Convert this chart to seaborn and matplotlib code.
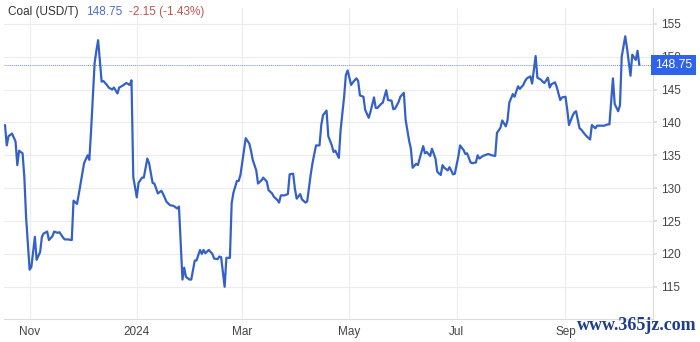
import numpy as np
import pandas as pd
import matplotlib
matplotlib.use("Agg")
import matplotlib.pyplot as plt
import matplotlib.dates as mdates
import matplotlib.transforms as mtransforms
import seaborn as sns

# ---- data ----
start_date = "2023-10-18"
day_offsets = [0, 1, 2, 4, 6, 7, 8, 10, 11, 12, 14, 15, 17, 18, 20, 21, 22, 24, 25, 27,
               28, 30, 31, 33, 34, 36, 38, 39, 41, 42, 44, 45, 47, 48, 49, 51, 52, 53, 55, 56,
               58, 59, 61, 62, 64, 65, 67, 69, 71, 72, 73, 75, 76, 78, 79, 81, 82, 84, 85, 87,
               89, 90, 92, 94, 96, 98, 99, 101, 102, 103, 105, 106, 108, 109, 111, 112, 113, 114, 116, 118,
               119, 121, 122, 123, 125, 126, 128, 129, 130, 132, 133, 134, 136, 137, 139, 140, 141, 143, 144, 146,
               147, 149, 150, 152, 153, 155, 156, 157, 159, 161, 162, 164, 165, 166, 168, 169, 171, 172, 174, 175,
               177, 179, 180, 181, 183, 184, 186, 187, 188, 190, 191, 193, 194, 195, 197, 198, 200, 201, 202, 204,
               205, 207, 208, 210, 211, 212, 214, 215, 217, 218, 220, 221, 222, 224, 225, 227, 228, 230, 231, 232,
               234, 235, 236, 238, 239, 240, 242, 243, 245, 246, 248, 249, 250, 252, 253, 255, 256, 258, 259, 261,
               262, 263, 265, 266, 268, 269, 270, 272, 274, 275, 277, 279, 280, 282, 283, 285, 286, 287, 289, 290,
               292, 293, 295, 296, 297, 299, 300, 302, 303, 305, 306, 307, 309, 310, 311, 313, 314, 316, 317, 319,
               320, 321, 323, 324, 325, 327, 328, 330, 331, 333, 334, 336, 337, 339, 341, 343, 344, 346, 347, 349,
               350, 351, 353, 354, 356, 357, 359, 360, 361]
prices = [139.6, 136.5, 137.9, 138.3, 137.1, 133.5, 135.7, 135.3, 131.7, 125.6, 117.6, 118.0, 122.6, 119.1, 120.3, 122.6, 123.1, 123.4, 122.1, 122.7,
          123.4, 123.2, 123.3, 122.5, 122.2, 122.2, 122.1, 128.1, 127.6, 129.1, 132.2, 133.8, 135.0, 134.3, 138.8, 149.0, 150.9, 152.5, 146.2, 146.3,
          145.7, 145.3, 145.0, 145.3, 144.4, 145.3, 145.6, 146.0, 145.7, 146.4, 131.7, 128.6, 130.8, 131.6, 131.6, 134.5, 133.8, 130.8, 130.7, 129.2,
          129.6, 129.1, 127.9, 127.4, 127.3, 126.9, 127.2, 116.1, 117.9, 116.5, 116.1, 116.1, 119.0, 119.0, 120.6, 120.0, 120.6, 120.1, 120.6, 120.0,
          119.3, 119.2, 119.6, 119.5, 115.0, 119.4, 119.4, 127.7, 129.3, 131.1, 131.1, 132.0, 135.8, 137.6, 136.8, 135.7, 134.3, 132.7, 130.7, 131.2,
          131.6, 131.0, 129.7, 129.2, 128.7, 128.2, 127.8, 128.9, 128.9, 129.1, 132.1, 132.2, 129.9, 128.4, 129.1, 128.3, 127.8, 128.0, 132.1, 133.8,
          136.5, 136.5, 139.6, 141.1, 141.8, 137.9, 136.5, 135.5, 135.7, 134.6, 138.8, 143.9, 147.2, 147.9, 145.7, 146.1, 146.7, 146.3, 144.1, 143.9,
          141.9, 140.7, 141.6, 143.8, 142.2, 142.2, 142.8, 143.0, 144.9, 143.4, 143.3, 142.0, 142.1, 143.1, 143.9, 144.5, 140.4, 137.2, 136.0, 133.1,
          133.7, 133.5, 134.5, 136.4, 135.3, 135.5, 134.9, 136.0, 134.5, 132.5, 132.0, 133.5, 133.1, 132.7, 133.2, 132.1, 132.2, 134.8, 136.5, 135.8,
          135.2, 135.3, 133.9, 133.8, 133.9, 135.0, 134.5, 134.9, 135.1, 135.2, 135.0, 134.9, 138.4, 139.2, 140.3, 139.4, 140.3, 143.0, 144.3, 143.9,
          145.5, 145.1, 145.7, 146.3, 146.7, 147.0, 145.9, 150.1, 146.8, 146.5, 146.2, 146.0, 146.8, 145.3, 145.8, 146.1, 145.4, 143.4, 143.8, 143.9,
          141.9, 139.6, 141.0, 141.5, 141.7, 139.1, 138.9, 138.2, 137.9, 137.4, 139.6, 139.1, 139.5, 139.5, 139.5, 139.7, 139.7, 146.7, 142.8, 141.7,
          142.6, 150.0, 153.1, 151.3, 147.1, 150.3, 149.5, 150.9, 148.75]
last_price = 148.75
change_text = "-2.15 (-1.43%)"
title_text = "Coal (USD/T)"
y_ticks = [115, 120, 125, 130, 135, 140, 145, 150, 155]
x_tick_dates = ["2023-11-01", "2024-01-01", "2024-03-01", "2024-05-01", "2024-07-01", "2024-09-01"]
x_tick_labels = ["Nov", "2024", "Mar", "May", "Jul", "Sep"]

df = pd.DataFrame({
    "date": pd.Timestamp(start_date) + pd.to_timedelta(day_offsets, unit="D"),
    "price": prices,
})

sns.set_theme(style="white")
plt.rcParams["font.family"] = ["Liberation Sans", "DejaVu Sans"]

fig = plt.figure(figsize=(7.0, 3.42), dpi=100)
W, H = 700, 342
ax_left_px, ax_right_px, ax_top_px, ax_bot_px = 4, 653, 8, 319
ax = fig.add_axes([ax_left_px / W, 1 - ax_bot_px / H,
                   (ax_right_px - ax_left_px) / W, (ax_bot_px - ax_top_px) / H])

line_color = "#3461c8"
sns.lineplot(data=df, x="date", y="price", ax=ax, color=line_color, linewidth=1.6)

t0 = pd.Timestamp(start_date)
ax.set_xlim(t0 - pd.Timedelta(days=0.57), t0 + pd.Timedelta(days=368.8))
ax.set_ylim(110.1, 157.4)

ax.set_yticks(y_ticks)
ax.set_xticks(pd.to_datetime(x_tick_dates))
ax.set_xticklabels(x_tick_labels)
ax.yaxis.tick_right()
ax.tick_params(axis="y", which="both", length=3, color="#dcdcdc", labelsize=8.5,
               labelcolor="#444444", pad=3)
ax.tick_params(axis="x", which="both", length=0, labelsize=8.5, labelcolor="#444444", pad=5)
ax.grid(True, color="#ececec", linewidth=0.8)
ax.set_axisbelow(True)
ax.set_xlabel("")
ax.set_ylabel("")
for s in ["top", "left"]:
    ax.spines[s].set_visible(False)
for s in ["right", "bottom"]:
    ax.spines[s].set_color("#dcdcdc")
    ax.spines[s].set_linewidth(0.8)

# dotted last-price line and label
ax.axhline(last_price, color="#6f8fd8", linewidth=0.7, linestyle=(0, (1, 1)), zorder=1)
trans = mtransforms.blended_transform_factory(ax.transAxes, ax.transData)
ax.text(1.003, last_price, f"{last_price:.2f}", transform=trans, ha="left", va="center",
        fontsize=8.8, color="white", zorder=10, clip_on=False,
        bbox=dict(boxstyle="square,pad=0.34", facecolor="#2f64ea", edgecolor="none"))

# header text
fig.text(8 / W, 1 - 12 / H, title_text, fontsize=8.5, color="#333333", va="center", ha="left")
fig.text(86 / W, 1 - 12 / H, f"{last_price:.2f}", fontsize=8.5, color="#4a6fc4", va="center", ha="left")
fig.text(129 / W, 1 - 12 / H, change_text, fontsize=8.5, color="#c25450", va="center", ha="left")

# watermark
fig.text(697 / W, 1 - 326 / H, "www.365jz.com", fontsize=13, color="#1f3d8f",
         family=["Liberation Serif", "DejaVu Serif"], fontweight="bold", ha="right", va="center")

fig.savefig("out.png", dpi=100)
